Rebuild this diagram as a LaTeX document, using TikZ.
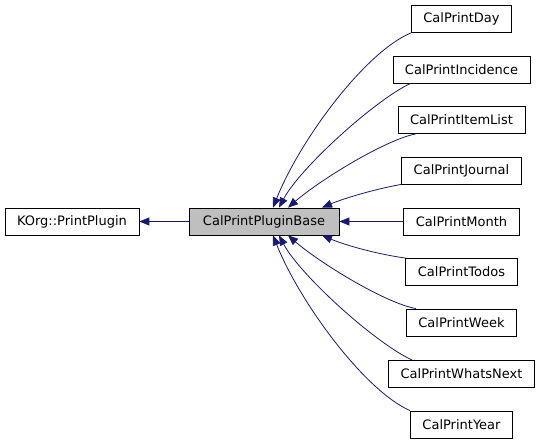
\documentclass[tikz,border=0pt]{standalone}
\usepackage{fontspec}
\setmainfont{DejaVu Sans}
\usetikzlibrary{arrows.meta}
\definecolor{edgeblue}{HTML}{191970}
\definecolor{basegray}{HTML}{BFBFBF}

\begin{document}
\begin{tikzpicture}[x=1pt,y=-1pt,
    cls/.style={draw=black,line width=0.8pt,minimum height=27pt,
      inner xsep=12pt,font=\fontsize{13}{15}\selectfont},
    inherit/.style={draw=edgeblue,line width=0.8pt,
      -{Triangle[length=10pt,width=8pt,fill=edgeblue]}}]
  \useasboundingbox (0,0) rectangle (541,443);
  % classes
  \node[cls] (printplugin) at (72,221.5) {KOrg::PrintPlugin};
  \node[cls,fill=basegray,minimum width=150pt] (base) at (264,221.5) {CalPrintPluginBase};
  \node[cls] (day) at (461.5,19) {CalPrintDay};
  \node[cls] (incidence) at (461.5,69.5) {CalPrintIncidence};
  \node[cls] (itemlist) at (461.5,120) {CalPrintItemList};
  \node[cls] (journal) at (461.5,170.5) {CalPrintJournal};
  \node[cls] (month) at (461.5,221.5) {CalPrintMonth};
  \node[cls] (todos) at (461.5,272) {CalPrintTodos};
  \node[cls] (week) at (461.5,322.5) {CalPrintWeek};
  \node[cls] (whatsnext) at (461.5,374) {CalPrintWhatsNext};
  \node[cls] (year) at (461.5,424.5) {CalPrintYear};
  % inheritance
  \draw[inherit] (base) -- (printplugin);
  \draw[inherit] (day.south west) .. controls (365,52) and (300,140) .. ([xshift=9pt]base.north);
  \draw[inherit] ([xshift=18pt]incidence.south west) .. controls (375,100) and (300,168) .. ([xshift=15pt]base.north);
  \draw[inherit] ([xshift=18pt]itemlist.south west) .. controls (385,140) and (320,180) .. ([xshift=24pt]base.north);
  \draw[inherit] (journal.south west) .. controls (370,190) and (340,200) .. ([xshift=58pt]base.north);
  \draw[inherit] (month) -- (base);
  \draw[inherit] (todos.north west) .. controls (370,253) and (340,243) .. ([xshift=58pt]base.south);
  \draw[inherit] ([xshift=10pt]week.north west) .. controls (385,303) and (320,263) .. ([xshift=24pt]base.south);
  \draw[inherit] ([xshift=24pt]whatsnext.north west) .. controls (375,343) and (300,275) .. ([xshift=15pt]base.south);
  \draw[inherit] (year.north west) .. controls (365,391) and (300,303) .. ([xshift=9pt]base.south);
\end{tikzpicture}
\end{document}
